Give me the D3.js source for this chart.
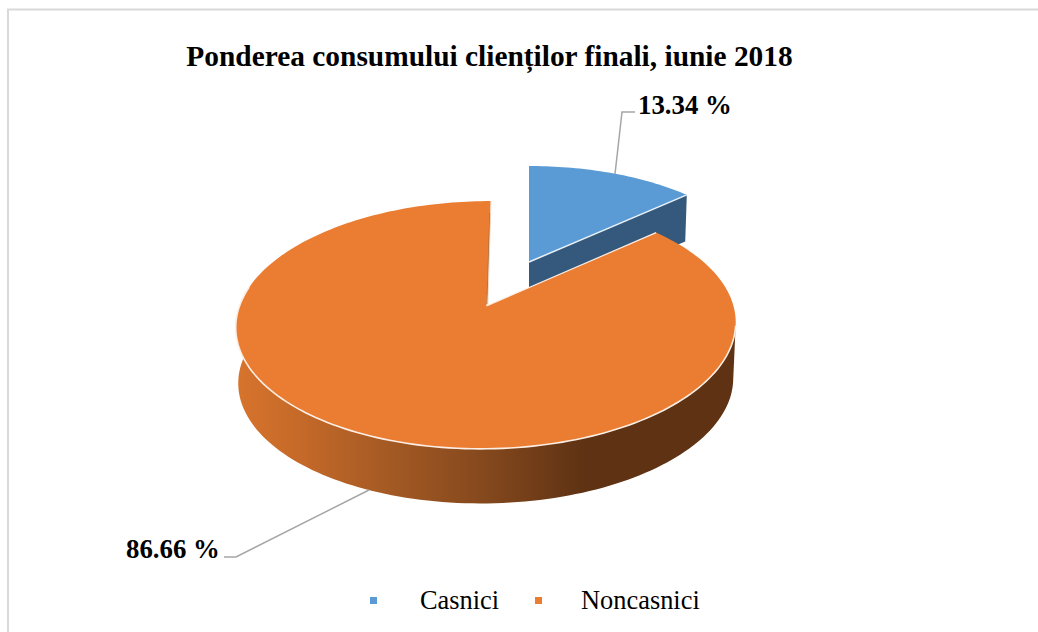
<!DOCTYPE html>
<html><head><meta charset="utf-8">
<script src="https://cdn.jsdelivr.net/npm/d3@7/dist/d3.min.js"></script>
<style>html,body{margin:0;padding:0;background:#fff}svg{display:block}text{font-family:"Liberation Serif",serif;fill:#000}</style>
</head><body><svg id="c" width="1038" height="632"></svg>
<script>
const categories = ["Casnici", "Noncasnici"];
const shares = [13.34, 86.66];
const valueLabels = ["13.34 %", "86.66 %"];
const colors = ["#5b9bd5", "#eb7d32"];
const wallColors = ["#35597c"];
const chartTitle = "Ponderea consumului clienților finali, iunie 2018";

const svg = d3.select("#c");
const defs = svg.append("defs");
const grad = defs.append("linearGradient").attr("id","wall").attr("gradientUnits","userSpaceOnUse")
  .attr("x1",236).attr("x2",735).attr("y1",0).attr("y2",0);
[[0,"#d7742d"],[0.12,"#c66a29"],[0.3,"#a55a24"],[0.5,"#84481d"],[0.7,"#5e3213"],[1,"#5e3213"]]
  .forEach(([o,c])=>grad.append("stop").attr("offset",o).attr("stop-color",c));

svg.append("path").attr("d","M8,632V9.5H1038").attr("fill","none").attr("stroke","#d9d9d9").attr("stroke-width",2);

svg.append("text").attr("x",489.5).attr("y",66).attr("text-anchor","middle")
  .attr("font-size",29.4).attr("font-weight","bold").text(chartTitle);

const pie = d3.pie().sort(null).value(d=>d);
const arcs = pie(shares);
const lineGen = d3.line();
const tau = Math.PI*2;

// tilted-disc projection of a pie angle
function projector(o){
  return (a, bottom=false)=>{
    const k = 1 + o.persp*Math.cos(a);
    const s = bottom ? o.bottomScale : 1;
    const x = o.cx + s*o.rx*(Math.sin(a)+o.shear*Math.cos(a))/k;
    const y = o.cy - s*o.ry*Math.cos(a)/k + (bottom ? o.depth : 0);
    return [x,y];
  };
}
const angleScale = n => d3.range(n+1).map(i=>i/n);
function arcPoints(p, a0, a1, n, bottom){
  return angleScale(n).map(t=>p(d3.interpolateNumber(a0,a1)(t), bottom));
}
const blue = projector({cx:529,cy:262,rx:234,ry:110.7,persp:0.153,shear:0,depth:46,bottomScale:0.99});
const orange = projector({cx:486.5,cy:306,rx:247,ry:121,persp:0.153,shear:0.02,depth:56,bottomScale:0.99});

// blue slice: wall then top
const bA = arcs[0], oA = arcs[1];
const blueTop = arcPoints(blue,bA.startAngle,bA.endAngle,40,false);
const bEnd = blue(bA.endAngle), bEndLow = blue(bA.endAngle,true);
svg.append("path").attr("d",lineGen([[529,262],bEnd,bEndLow,[529,262+46]])+"Z").attr("fill",wallColors[0]);

svg.append("path").attr("d",lineGen([[529,262],...blueTop])+"Z").attr("fill",colors[0]);
svg.append("path").attr("d",lineGen([[529,262],bEnd])).attr("stroke","#e8f0f8").attr("stroke-width",1.5).attr("fill","none");

// orange slice: outer wall
const tangentL = 3*Math.PI/2 + 0.16, tangentR = Math.PI/2 + 0.16;
const wallTop = arcPoints(orange,tangentR,tangentL,120,false);
const wallLow = arcPoints(orange,tangentL,tangentR,120,true);
svg.append("path").attr("d",lineGen([...wallTop,...wallLow])+"Z").attr("fill","url(#wall)");

// orange slice: top
const orangeTop = arcPoints(orange,oA.startAngle,oA.endAngle,240,false);
svg.append("path").attr("d",lineGen([[486.5,306],...orangeTop])+"Z").attr("fill",colors[1]);
svg.append("path").attr("d",lineGen(arcPoints(orange,Math.PI/2+0.16,3*Math.PI/2+0.16,120,false)))
  .attr("fill","none").attr("stroke","#fbeee4").attr("stroke-width",1.6);
svg.append("path").attr("d",lineGen([[486.5,306],orange(oA.startAngle)])).attr("fill","none").attr("stroke","#fbeee4").attr("stroke-width",1.2);
// sliver of the cut wall beside the gap
svg.append("path").attr("d",lineGen([[490,213],[487,304]])).attr("fill","none").attr("stroke","#b0703f").attr("stroke-width",1.3);
svg.append("path").attr("d",lineGen([[491,201],[487.8,306]])).attr("fill","none").attr("stroke","#f6d9c3").attr("stroke-width",0.9);

// leaders
const leaders = [[[615,174],[622,112],[635,112]],[[369,490],[236,557],[224,557]]];
leaders.forEach(l=>svg.append("path").attr("d",lineGen(l)).attr("fill","none").attr("stroke","#a6a6a6").attr("stroke-width",1.5));

svg.append("text").attr("x",638).attr("y",114).attr("font-size",26.8).attr("font-weight","bold").text(valueLabels[0]);
svg.append("text").attr("x",126).attr("y",558).attr("font-size",26.8).attr("font-weight","bold").text(valueLabels[1]);

// legend
const legendX = [[370,420],[535,581]];
categories.forEach((c,i)=>{
  svg.append("rect").attr("x",legendX[i][0]).attr("y",597).attr("width",7).attr("height",7).attr("fill",colors[i]);
  svg.append("text").attr("x",legendX[i][1]).attr("y",609).attr("font-size",26.4).text(c);
});
</script></body></html>
